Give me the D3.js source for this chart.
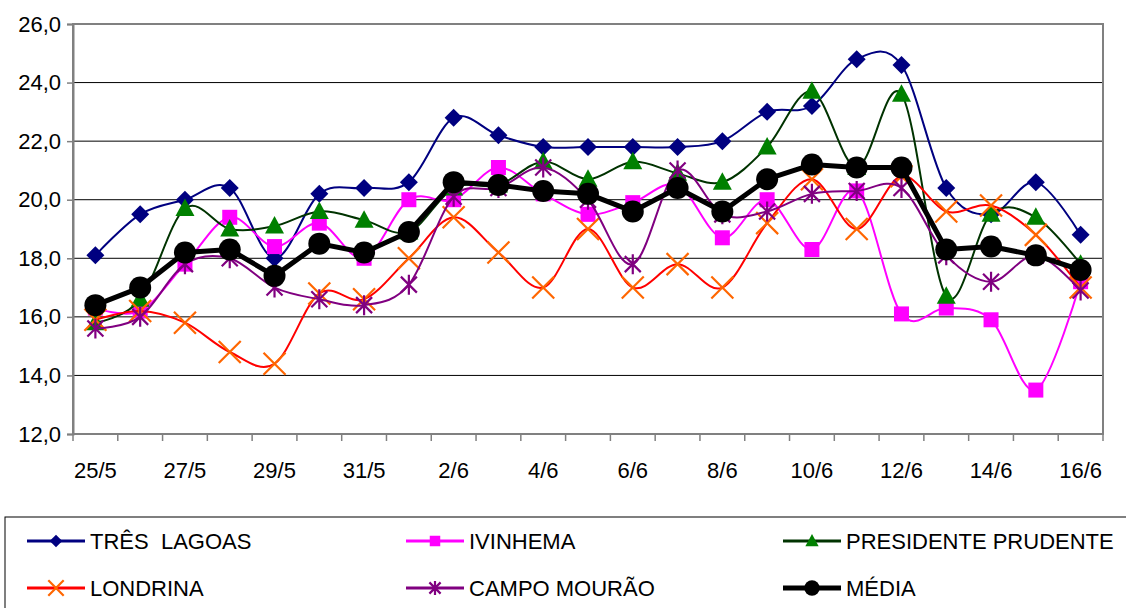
<!DOCTYPE html>
<html>
<head>
<meta charset="utf-8">
<script src="https://cdn.jsdelivr.net/npm/d3@7"></script>
<style>
  body { margin: 0; background: #fff; }
  svg { display: block; font-family: "Liberation Sans", Arial, sans-serif; }
</style>
</head>
<body>
<div class="canvas"></div>
<script>
// dates on the x axis
const days = ['25/5', '26/5', '27/5', '28/5', '29/5', '30/5', '31/5', '1/6', '2/6', '3/6', '4/6',
  '5/6', '6/6', '7/6', '8/6', '9/6', '10/6', '11/6', '12/6', '13/6', '14/6', '15/6', '16/6'];

const yTicks = [12, 14, 16, 18, 20, 22, 24, 26];

const tresLagoas = [18.1, 19.5, 20.0, 20.4, 18.0, 20.2, 20.4, 20.6, 22.8, 22.2, 21.8, 21.8,
  21.8, 21.8, 22.0, 23.0, 23.2, 24.8, 24.6, 20.4, 19.5, 20.6, 18.8];
const ivinhema = [16.3, 16.2, 17.8, 19.4, 18.4, 19.2, 18.0, 20.0, 20.0, 21.1, 20.2, 19.5,
  19.9, 20.5, 18.7, 20.0, 18.3, 20.3, 16.1, 16.3, 15.9, 13.5, 17.2];
const presPrudente = [15.8, 16.6, 19.7, 19.0, 19.1, 19.6, 19.3, 18.9, 20.4, 20.5, 21.3, 20.7,
  21.3, 20.9, 20.6, 21.8, 23.7, 21.1, 23.6, 16.7, 19.5, 19.4, 17.8];
const londrina = [15.9, 16.2, 15.8, 14.8, 14.4, 16.8, 16.6, 18.0, 19.4, 18.2, 17.0, 19.0,
  17.0, 17.8, 17.0, 19.2, 20.7, 19.0, 20.8, 19.6, 19.8, 18.8, 17.0];
const campoMourao = [15.6, 16.0, 17.8, 18.0, 17.0, 16.6, 16.4, 17.1, 20.1, 20.4, 21.1, 20.0,
  17.8, 21.0, 19.5, 19.6, 20.2, 20.3, 20.4, 18.1, 17.2, 18.1, 16.9];
const media = [16.4, 17.0, 18.2, 18.3, 17.4, 18.5, 18.2, 18.9, 20.6, 20.5, 20.3, 20.2,
  19.6, 20.4, 19.6, 20.7, 21.2, 21.1, 21.1, 18.3, 18.4, 18.1, 17.6];

const series = [
  { name: 'TRÊS  LAGOAS', values: tresLagoas, line: '#000080', fill: '#000080', marker: 'diamond', width: 2, smooth: true },
  { name: 'IVINHEMA', values: ivinhema, line: '#ff00ff', fill: '#ff00ff', marker: 'square', width: 2, smooth: true },
  { name: 'PRESIDENTE PRUDENTE', values: presPrudente, line: '#003300', fill: '#008000', marker: 'triangle', width: 2, smooth: true },
  { name: 'LONDRINA', values: londrina, line: '#ff0000', fill: '#ff6600', marker: 'x', width: 2, smooth: true },
  { name: 'CAMPO MOURÃO', values: campoMourao, line: '#800080', fill: '#800080', marker: 'star', width: 2, smooth: true },
  { name: 'MÉDIA', values: media, line: '#000000', fill: '#000000', marker: 'circle', width: 5, smooth: false }
];

const width = 1126, height = 608;
const margin = { top: 24, right: 23, bottom: 174, left: 73 };
const graphWidth = width - margin.left - margin.right;
const graphHeight = height - margin.top - margin.bottom;

const svg = d3.select('.canvas')
  .append('svg')
  .attr('width', width)
  .attr('height', height);

const graph = svg.append('g')
  .attr('transform', `translate(${margin.left}, ${margin.top})`);

const x = d3.scaleBand().domain(days).range([0, graphWidth]).padding(0);
const y = d3.scaleLinear().domain([12, 26]).range([graphHeight, 0]);
const cx = d => x(d) + x.bandwidth() / 2;

// gridlines
graph.append('g')
  .selectAll('line')
  .data(yTicks.filter(t => t > 12 && t < 26))
  .enter().append('line')
  .attr('x1', 0).attr('x2', graphWidth)
  .attr('y1', d => y(d)).attr('y2', d => y(d))
  .attr('stroke', '#000').attr('stroke-width', 1);

// frame
graph.append('rect')
  .attr('x', 0).attr('y', 0)
  .attr('width', graphWidth).attr('height', graphHeight)
  .attr('fill', 'none').attr('stroke', '#808080').attr('stroke-width', 2);

// axes
const yAxis = d3.axisLeft(y)
  .tickValues(yTicks)
  .tickSize(6)
  .tickPadding(6)
  .tickFormat(d => d3.format('.1f')(d).replace('.', ','));

const yAxisGroup = graph.append('g').call(yAxis);
yAxisGroup.select('.domain').attr('stroke', '#808080').attr('stroke-width', 2);
yAxisGroup.selectAll('.tick line').attr('stroke', '#808080').attr('stroke-width', 1.5);
yAxisGroup.selectAll('text')
  .attr('font-size', 22)
  .attr('fill', '#000')
  .attr('font-family', '"Liberation Sans", Arial, sans-serif');

const xAxisGroup = graph.append('g')
  .attr('transform', `translate(0, ${graphHeight})`);
xAxisGroup.append('line')
  .attr('x1', 0).attr('x2', graphWidth)
  .attr('stroke', '#808080').attr('stroke-width', 2);
// category boundary ticks
xAxisGroup.selectAll('line.tk')
  .data(days.concat(['end']))
  .enter().append('line')
  .attr('class', 'tk')
  .attr('x1', (d, i) => i * x.bandwidth()).attr('x2', (d, i) => i * x.bandwidth())
  .attr('y1', 0).attr('y2', 7)
  .attr('stroke', '#808080').attr('stroke-width', 1.5);
xAxisGroup.selectAll('text')
  .data(days.filter((d, i) => i % 2 === 0))
  .enter().append('text')
  .attr('x', d => cx(d))
  .attr('y', 44)
  .attr('text-anchor', 'middle')
  .attr('font-size', 22)
  .text(d => d);

// markers
const drawMarker = (g, type, color, s) => {
  if (type === 'diamond') {
    g.append('path').attr('d', `M0,${-s}L${s},0L0,${s}L${-s},0Z`).attr('fill', color);
  } else if (type === 'square') {
    g.append('rect').attr('x', -s).attr('y', -s).attr('width', s * 2).attr('height', s * 2).attr('fill', color);
  } else if (type === 'triangle') {
    g.append('path').attr('d', `M0,${-s}L${s * 0.95},${s * 0.75}L${-s * 0.95},${s * 0.75}Z`).attr('fill', color);
  } else if (type === 'x') {
    g.append('path').attr('d', `M${-s},${-s}L${s},${s}M${s},${-s}L${-s},${s}`)
      .attr('stroke', color).attr('stroke-width', 2.2).attr('fill', 'none');
  } else if (type === 'star') {
    g.append('path').attr('d', `M${-s * 0.8},${-s * 0.8}L${s * 0.8},${s * 0.8}M${s * 0.8},${-s * 0.8}L${-s * 0.8},${s * 0.8}M0,${-s}L0,${s}`)
      .attr('stroke', color).attr('stroke-width', 2.2).attr('fill', 'none');
  } else if (type === 'circle') {
    g.append('circle').attr('r', s).attr('fill', color);
  }
};

const markerSize = { diamond: 9, square: 7.5, triangle: 10, x: 11, star: 10, circle: 11 };

series.forEach(s => {
  const line = d3.line()
    .x((d, i) => cx(days[i]))
    .y(d => y(d))
    .curve(s.smooth ? d3.curveCatmullRom.alpha(0) : d3.curveLinear);

  graph.append('path')
    .datum(s.values)
    .attr('d', line)
    .attr('fill', 'none')
    .attr('stroke', s.line)
    .attr('stroke-width', s.width)
    .attr('stroke-linejoin', 'round');

  s.values.forEach((v, i) => {
    const g = graph.append('g').attr('transform', `translate(${cx(days[i])}, ${y(v)})`);
    drawMarker(g, s.marker, s.fill, markerSize[s.marker]);
  });
});

// legend
const legend = svg.append('g');
legend.append('rect')
  .attr('x', 5).attr('y', 517)
  .attr('width', 1140).attr('height', 120)
  .attr('fill', 'none').attr('stroke', '#000').attr('stroke-width', 1);

const colX = [27, 406, 783];
const rowY = [541, 588];
series.forEach((s, i) => {
  const lx = colX[i % 3];
  const ly = rowY[Math.floor(i / 3)];
  const g = legend.append('g').attr('transform', `translate(${lx}, ${ly})`);
  g.append('line')
    .attr('x1', 0).attr('x2', 58)
    .attr('stroke', s.line)
    .attr('stroke-width', s.width === 5 ? 5 : 3);
  const m = g.append('g').attr('transform', 'translate(29, 0)');
  drawMarker(m, s.marker, s.fill, markerSize[s.marker] * 0.7);
  g.append('text')
    .attr('x', 63)
    .attr('y', 8)
    .attr('font-size', 22)
    .style('white-space', 'pre')
    .text(s.name);
});
</script>
</body>
</html>
